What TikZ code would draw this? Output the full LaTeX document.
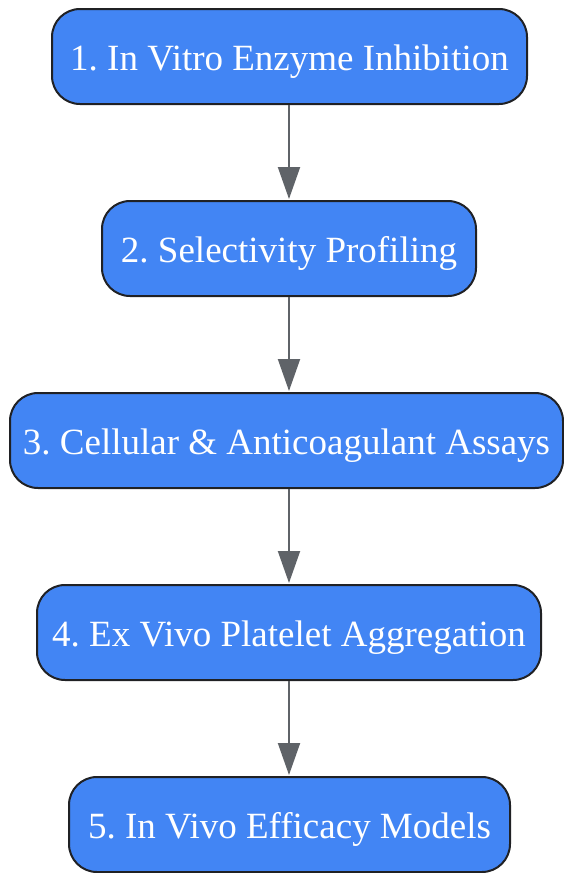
\documentclass[tikz,border=0pt]{standalone}
\usepackage{fontspec}
\setmainfont{Liberation Serif}
\usetikzlibrary{arrows.meta}
\definecolor{boxfill}{HTML}{4285F4}
\definecolor{boxline}{HTML}{202124}
\definecolor{arrowc}{HTML}{5F6368}
\frenchspacing
\begin{document}
\begin{tikzpicture}[x=1pt,y=-1pt,
  stepbox/.style={draw=boxline, line width=2pt, fill=boxfill, rounded corners=28pt,
    minimum height=95pt, inner sep=0pt, text=white, text height=27pt, text depth=0pt,
    font=\fontsize{37}{40}\selectfont},
  conn/.style={draw=arrowc, line width=2pt, -{Triangle[length=32pt,width=22pt]}, shorten >=1pt}]
\useasboundingbox (0,0) rectangle (564,873);
\node[stepbox, minimum width=475pt] (s1) at (289.5,56.5) {1. In Vitro Enzyme Inhibition};
\node[stepbox, minimum width=374pt] (s2) at (289,248.5) {2. Selectivity Profiling};
\node[stepbox, minimum width=553pt] (s3) at (286.5,440.5) {3. Cellular \& Anticoagulant Assays};
\node[stepbox, minimum width=504pt] (s4) at (289,632.5) {4. Ex Vivo Platelet Aggregation};
\node[stepbox, minimum width=441pt] (s5) at (289.5,824.5) {5. In Vivo Efficacy Models};
\draw[conn] (s1.south -| 289,0) -- (s2.north -| 289,0);
\draw[conn] (s2.south -| 289,0) -- (s3.north -| 289,0);
\draw[conn] (s3.south -| 289,0) -- (s4.north -| 289,0);
\draw[conn] (s4.south -| 289,0) -- (s5.north -| 289,0);
\end{tikzpicture}
\end{document}
